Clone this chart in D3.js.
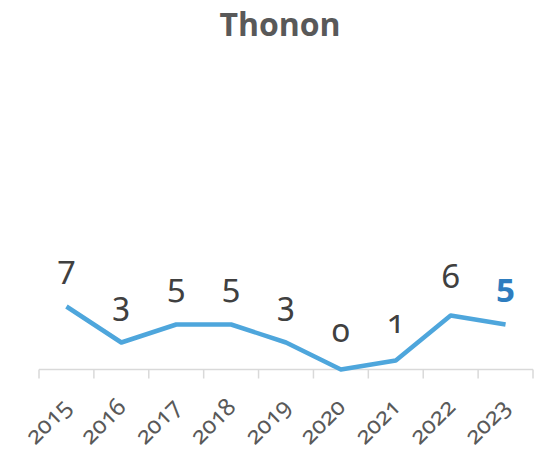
<!DOCTYPE html>
<html>
<head>
<meta charset="utf-8">
<script src="https://cdn.jsdelivr.net/npm/d3@7"></script>
<style>
  body { margin: 0; background: #fff; }
  text { font-family: "Open Sans", sans-serif; }
  .num { font-family: "Noto Sans", sans-serif; font-variant-numeric: oldstyle-nums; font-feature-settings: "onum" 1; }
</style>
</head>
<body>
<div id="chart"></div>
<script>
const years = ["2015", "2016", "2017", "2018", "2019", "2020", "2021", "2022", "2023"]
const values = [7, 3, 5, 5, 3, 0, 1, 6, 5]

const width = 544
const height = 453

const svg = d3.select("#chart")
  .append("svg")
    .attr("width", width)
    .attr("height", height)

const xScale = d3.scaleBand()
  .domain(years)
  .range([39, 533])

const yScale = d3.scaleLinear()
  .domain([0, 20])
  .range([369.5, 189.5])

// Title
svg.append("text")
  .text("Thonon")
  .attr("x", 280)
  .attr("y", 36)
  .attr("text-anchor", "middle")
  .attr("font-size", 32)
  .attr("font-weight", "bold")
  .attr("fill", "#595959")

// Axis
const axis = svg.append("g")
  .attr("transform", "translate(0," + yScale(0) + ")")

axis.append("line")
  .attr("x1", xScale.range()[0])
  .attr("x2", xScale.range()[1])
  .attr("stroke", "#d9d9d9")
  .attr("stroke-width", 1.5)

const edges = years.map(d => xScale(d)).concat([xScale.range()[1]])
axis.selectAll(".tick")
  .data(edges).enter()
  .append("line")
    .attr("x1", d => d)
    .attr("x2", d => d)
    .attr("y1", 0)
    .attr("y2", 9)
    .attr("stroke", "#d9d9d9")
    .attr("stroke-width", 1.5)

axis.selectAll(".label")
  .data(years).enter()
  .append("text")
    .attr("class", "num")
    .text(d => d)
    .attr("text-anchor", "end")
    .attr("font-size", 24)
    .attr("fill", "#595959")
    .attr("transform", d => "translate(" + (xScale(d) + xScale.bandwidth() / 2 + 6) + ",39)rotate(-45)")

// Line
const line = d3.line()
  .x((d, i) => xScale(years[i]) + xScale.bandwidth() / 2)
  .y(d => yScale(d))

svg.append("path")
  .datum(values)
  .attr("d", line)
  .attr("fill", "none")
  .attr("stroke", "#4ea6dc")
  .attr("stroke-width", 4.5)
  .attr("stroke-linejoin", "round")

// Data labels
svg.selectAll(".value")
  .data(values).enter()
  .append("text")
    .attr("class", "num")
    .text(d => d)
    .attr("x", (d, i) => xScale(years[i]) + xScale.bandwidth() / 2)
    .attr("y", d => yScale(d) - 28)
    .attr("text-anchor", "middle")
    .attr("font-size", 33)
    .attr("font-weight", (d, i) => i === values.length - 1 ? "bold" : "normal")
    .attr("fill", (d, i) => i === values.length - 1 ? "#2e7dbf" : "#404040")
</script>
</body>
</html>
